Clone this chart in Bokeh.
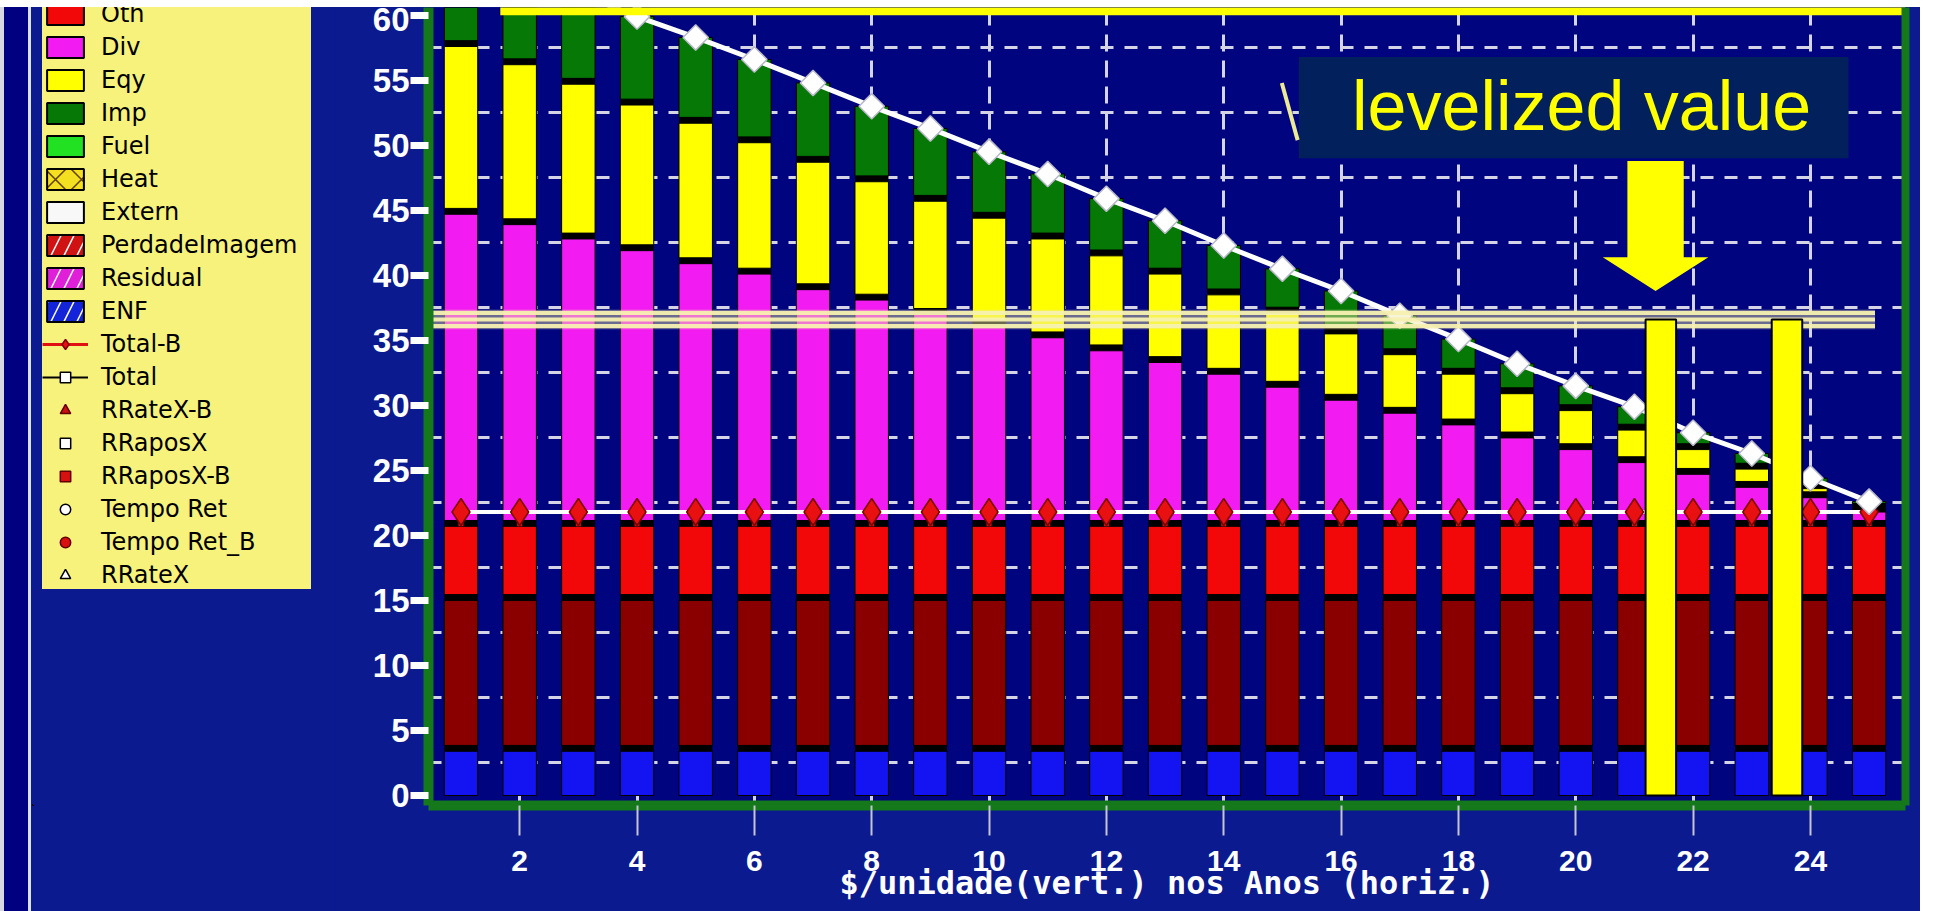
import math

from bokeh.core.properties import value
from bokeh.embed import file_html
from bokeh.layouts import column, row
from bokeh.models import (FixedTicker, Legend, LegendItem, LinearAxis, Range1d, Spacer)
from bokeh.plotting import figure
from bokeh.resources import INLINE

# ---------------------------------------------------------------- data
years = list(range(1, 26))

# cost components per year ($/unidade), stacked from the bottom up
enf = [3.4] * 25
perda_imagem = [11.6] * 25
oth = [5.7] * 25
div = [24.0, 23.2, 22.1, 21.2, 20.2, 19.4, 18.2, 17.4, 16.3, 15.4, 14.5, 13.5, 12.6,
       11.7, 10.7, 9.7, 8.7, 7.8, 6.8, 5.9, 4.9, 4.0, 3.0, 2.2, 1.1]
eqy = [12.9, 12.3, 11.9, 11.2, 10.8, 10.1, 9.8, 9.1, 8.7, 8.3, 7.6, 7.3, 6.8,
       6.1, 5.7, 5.1, 4.5, 3.9, 3.4, 3.0, 2.5, 1.9, 1.4, 0.7, 0.2]
imp = [7.9, 7.4, 7.0, 6.8, 6.6, 6.4, 6.1, 5.8, 5.6, 5.1, 5.0, 4.4, 4.1,
       3.8, 3.4, 3.3, 3.0, 2.7, 2.3, 1.9, 1.8, 1.3, 1.2, 0.8, 0.6]
total_b = [21.8] * 25

# levelized value and the two bars that show it
levelized = 36.6
levelized_bar_x = [21.45, 23.6]

y_tick_values = list(range(0, 61, 5))
x_tick_values = list(range(2, 25, 2))

x_title = "$/unidade(vert.) nos Anos (horiz.)"

# ---------------------------------------------------------------- styling
NAVY = "#00047e"
BORDER = "#0b1a8f"
GREEN = "#15781a"
BAR_W = 0.57
GAP = 0.45  # black separation between stacked segments

RED, DARK_RED, BLUE = "#f20808", "#8a0000", "#1414f2"
MAGENTA, YELLOW, DARK_GREEN = "#f21cf2", "#ffff00", "#067806"

X_MIN, X_MAX = 0.446, 25.62
Y_MIN, Y_MAX = -0.77, 60.6

FIG_H = 904
FRAME_H = 798
EDGE_W = 32        # window edge strip at the far left
LEGEND_W = 302

p = figure(width=1586, height=FIG_H, output_backend="svg", toolbar_location=None,
           x_range=Range1d(X_MIN, X_MAX), y_range=Range1d(Y_MIN, Y_MAX),
           min_border_left=94, min_border_right=15, min_border_top=0,
           min_border_bottom=FIG_H - FRAME_H)
p.background_fill_color = NAVY
p.border_fill_color = BORDER
p.outline_line_color = None

# grid: dashed white, verticals on the labelled years, horizontals between labels
p.xaxis.ticker = FixedTicker(ticks=x_tick_values)
p.yaxis.ticker = FixedTicker(ticks=y_tick_values)
p.xgrid.ticker = FixedTicker(ticks=x_tick_values)
p.ygrid.ticker = FixedTicker(ticks=[v + 2.5 for v in y_tick_values[:-1]])
for g, dash in ((p.xgrid, "17 9"), (p.ygrid, "13 11")):
    g.grid_line_color = "#d4d4e6"
    g.grid_line_width = 3
    g.grid_line_dash = dash

# axes
for ax in (p.xaxis, p.yaxis):
    ax.axis_line_color = GREEN
    ax.axis_line_width = 10
    ax.minor_tick_line_color = None
    ax.major_tick_in = 0
    ax.major_label_text_color = "white"
    ax.major_label_text_font = "Liberation Sans"
    ax.major_label_text_font_style = "bold"

p.yaxis.major_tick_out = 18
p.yaxis.major_tick_line_color = "white"
p.yaxis.major_tick_line_width = 7
p.yaxis.major_label_text_font_size = "33px"
p.yaxis.major_label_standoff = 1

p.xaxis.major_tick_out = 30
p.xaxis.major_tick_line_color = "#c4c4d4"
p.xaxis.major_tick_line_width = 2
p.xaxis.major_label_text_font_size = "30px"
p.xaxis.major_label_standoff = 15
p.xaxis.axis_label = x_title
p.xaxis.axis_label_text_color = "white"
p.xaxis.axis_label_text_font = "DejaVu Sans Mono"
p.xaxis.axis_label_text_font_style = "bold"
p.xaxis.axis_label_text_font_size = "32px"
p.xaxis.axis_label_standoff = -10

right_edge = LinearAxis(ticker=FixedTicker(ticks=[]), axis_line_color=GREEN,
                        axis_line_width=8, major_tick_line_color=None,
                        minor_tick_line_color=None, major_label_text_font_size="0px")
p.add_layout(right_edge, "right")

# ---------------------------------------------------------------- stacked bars
stack = [("ENF", enf, BLUE), ("PerdadeImagem", perda_imagem, DARK_RED),
         ("Oth", oth, RED), ("Div", div, MAGENTA),
         ("Eqy", eqy, YELLOW), ("Imp", imp, DARK_GREEN)]

total = [sum(vals) for vals in zip(*[s[1] for s in stack])]
# black backing column, the gaps between segments show it
p.vbar(x=years, bottom=0, top=total, width=BAR_W, fill_color="black", line_color=None)

base = [0.0] * len(years)
tops = {}
for i, (name, vals, color) in enumerate(stack):
    top = [b + v for b, v in zip(base, vals)]
    bottom = [min(b + (GAP if i else 0.0), t) for b, t in zip(base, top)]
    p.vbar(x=years, bottom=bottom, top=top, width=BAR_W,
           fill_color=color, line_color="black", line_width=1)
    tops[name] = top
    base = top

# Total-B: white line with red pins
p.line(years, total_b, line_color="white", line_width=4)
p.segment(x0=years, y0=tops["Oth"], x1=years, y1=total_b, line_color="#e01010", line_width=5)
p.scatter(years, total_b, marker="diamond", size=27,
          fill_color="#e81010", line_color="#7a0000", line_width=1.5)

# Total: white line with diamonds
p.line(years, total, line_color="white", line_width=5)
p.scatter(years, total, marker="square", angle=math.pi / 4, size=18,
          fill_color="white", line_color="#b8b8c8", line_width=1.5)

# levelized band across the plot
band_right = 25.1
p.quad(left=X_MIN, right=band_right, bottom=levelized - 0.75, top=levelized + 0.75,
       fill_color="#eee6a8", fill_alpha=0.45, line_color=None)
p.segment(x0=[X_MIN] * 3, x1=[band_right] * 3,
          y0=[levelized + 0.5, levelized, levelized - 0.5],
          y1=[levelized + 0.5, levelized, levelized - 0.5],
          line_color="#f6f0b0", line_width=4, line_alpha=0.95)

# the levelized value as two bars
p.vbar(x=levelized_bar_x, bottom=0, top=levelized, width=0.52,
       fill_color=YELLOW, line_color="black", line_width=2)

# arrow pointing down to the levelized line
ax_c = 21.36
tip = levelized + 2.2
head = levelized + 4.8
tail = levelized + 12.2
p.patch([ax_c - 0.48, ax_c + 0.48, ax_c + 0.48, ax_c + 0.9, ax_c, ax_c - 0.9, ax_c - 0.48],
        [tail, tail, head, head, tip, head, head],
        fill_color=YELLOW, line_color=None)

# label box
p.quad(left=15.28, right=24.65, bottom=49.0, top=56.8, fill_color="#02205c", line_color=None)
p.segment(x0=[14.99], y0=[54.8], x1=[15.26], y1=[50.4], line_color="#ecea96", line_width=4)
p.text(x=[20.1], y=[53.0], text=["levelized value"], text_font=value("Liberation Sans"),
       text_font_size="70px", text_color=YELLOW, text_align="center",
       text_baseline="alphabetic")

# highlight strip along the top
p.quad(left=1.67, right=X_MAX, bottom=60.0, top=61.0, fill_color=YELLOW, line_color=None)

# ---------------------------------------------------------------- legend panel
# screen-pixel coordinates, frame bottom at y = 0
lf = figure(width=LEGEND_W, height=FIG_H, output_backend="svg", toolbar_location=None,
            x_axis_type=None, y_axis_type=None, x_range=Range1d(0, LEGEND_W),
            y_range=Range1d(0, FRAME_H), min_border=0)
lf.grid.visible = False
lf.background_fill_color = BORDER
lf.background_fill_alpha = 0.0
lf.border_fill_color = BORDER
lf.outline_line_color = None

# legend swatches: one hidden point each, outside the visible range
HIDE = -60


def swatch(color, hatch=None, hatch_color="white"):
    kw = dict(fill_color=color, line_color="black", line_width=2)
    if hatch:
        kw.update(hatch_pattern=hatch, hatch_color=hatch_color, hatch_scale=26,
                  hatch_weight=1.5)
    return lf.vbar(x=[HIDE], bottom=[HIDE], top=[HIDE + 1], width=1, **kw)


def marker(kind, color, edge="black", size=12, angle=0.0):
    return lf.scatter(x=[HIDE], y=[HIDE], marker=kind, size=size, angle=angle,
                      fill_color=color, line_color=edge, line_width=1.5)


def stroke(color, width):
    return lf.line(x=[HIDE, HIDE - 1], y=[HIDE, HIDE], line_color=color, line_width=width)


items = [
    ("Oth", [swatch(RED)]),
    ("Div", [swatch(MAGENTA)]),
    ("Eqy", [swatch(YELLOW)]),
    ("Imp", [swatch(DARK_GREEN)]),
    ("Fuel", [swatch("#22e022")]),
    ("Heat", [swatch("#f4e020", "x", "#604000")]),
    ("Extern", [swatch("#f8f8f8")]),
    ("PerdadeImagem", [swatch("#d01212", "/")]),
    ("Residual", [swatch("#e020d8", "/")]),
    ("ENF", [swatch("#1424d8", "/")]),
    ("Total-B", [stroke("#e01010", 3), marker("diamond", "#e81010", "#7a0000", size=14)]),
    ("Total", [stroke("black", 2), marker("square", "white", angle=math.pi / 4, size=10)]),
    ("RRateX-B", [marker("triangle", "#c81010", "#600000")]),
    ("RRaposX", [marker("square", "white")]),
    ("RRaposX-B", [marker("square", "#d81010", "#600000")]),
    ("Tempo Ret", [marker("circle", "white")]),
    ("Tempo Ret_B", [marker("circle", "#d81010", "#600000")]),
    ("RRateX", [marker("triangle", "white")]),
]
legend = Legend(items=[LegendItem(label=lab, renderers=rs) for lab, rs in items],
                location=(10, 216), margin=0,
                background_fill_color="#f6f27c", background_fill_alpha=1.0,
                border_line_color=None, label_text_font="DejaVu Sans",
                label_text_font_size="24px", label_text_color="black",
                glyph_width=46, glyph_height=26, label_height=29, label_width=210,
                spacing=4, padding=11, label_standoff=13)
lf.add_layout(legend)

edge_strip = Spacer(width=EDGE_W, height=FIG_H, styles={
    "background": "linear-gradient(to right, #d8d8e0 0px, #d8d8e0 4px, #000080 4px, "
                  "#000080 28px, #dcdff0 28px, #dcdff0 31px, #0b1a8f 31px)"})

layout = column(Spacer(width=1938, height=7),
                row(edge_strip, lf, p, styles={"background-color": BORDER}))

with open("out.html", "w") as f:
    f.write(file_html(layout, INLINE))
